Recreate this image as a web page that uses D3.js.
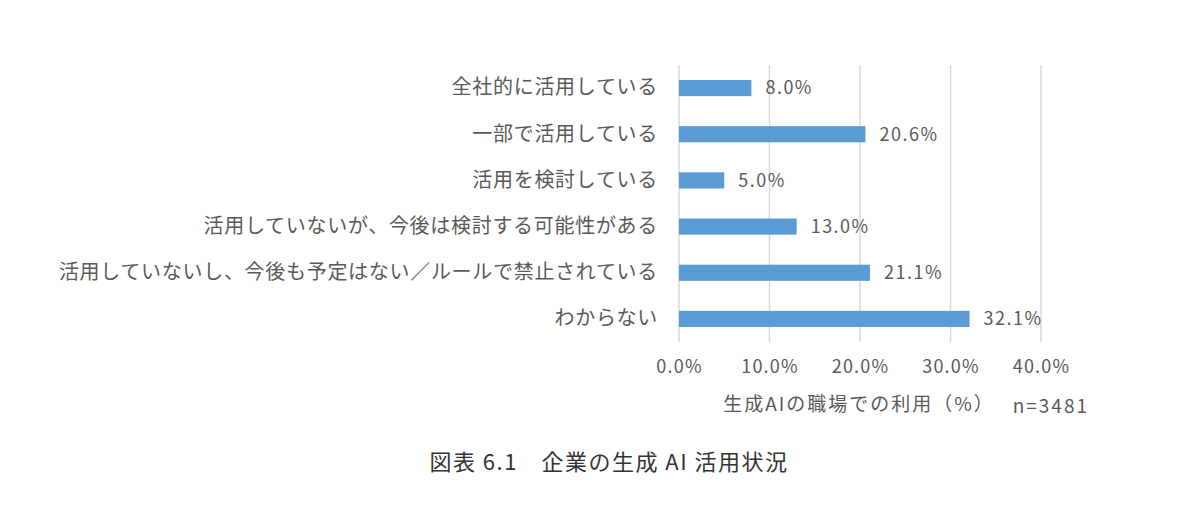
<!DOCTYPE html>
<html lang="ja">
<head>
    <meta charset="UTF-8">
    <script src="https://d3js.org/d3.v7.min.js"></script>
    <title>企業の生成AI活用状況</title>
    <style>
        html, body {
            margin: 0px;
            padding: 0px;
            background-color: #ffffff;
            font-family: "Noto Sans CJK JP", "Noto Sans", sans-serif;
        }
    </style>
</head>
<body>
    <div id="chart"></div>
    <script>

        let categories = [
            '全社的に活用している',
            '一部で活用している',
            '活用を検討している',
            '活用していないが、今後は検討する可能性がある',
            '活用していないし、今後も予定はない／ルールで禁止されている',
            'わからない'
        ];
        let values = [8.0, 20.6, 5.0, 13.0, 21.1, 32.1];
        let tick_values = [0, 10, 20, 30, 40];

        let axis_title = '生成AIの職場での利用（%）';
        let sample_note = 'n=3481';
        let caption = '図表 6.1　企業の生成 AI 活用状況';

        let width = 1200;
        let height = 526;
        let text_colour = '#595959';

        let svg = d3.select('#chart').append('svg')
            .attr('width', width)
            .attr('height', height);

        let x = d3.scaleLinear().domain([0, 40]).range([679, 1041]);
        let y = d3.scaleBand().domain(categories).range([65, 342]).paddingInner(0.65).paddingOuter(0.325);

        // gridlines
        svg.append('g')
            .selectAll('line')
            .data(tick_values)
            .join('line')
            .attr('x1', d => x(d))
            .attr('x2', d => x(d))
            .attr('y1', 65)
            .attr('y2', 342)
            .attr('stroke', '#d9d9d9')
            .attr('stroke-width', 1.5);

        // bars
        svg.append('g')
            .selectAll('rect')
            .data(values)
            .join('rect')
            .attr('x', x(0))
            .attr('y', (d, i) => y(categories[i]))
            .attr('width', d => x(d) - x(0))
            .attr('height', y.bandwidth())
            .attr('fill', '#5b9bd5');

        // value labels
        svg.append('g')
            .selectAll('text')
            .data(values)
            .join('text')
            .attr('x', d => x(d) + 14)
            .attr('y', (d, i) => y(categories[i]) + y.bandwidth() / 2)
            .attr('dy', '0.35em')
            .attr('font-size', '18px')
            .attr('letter-spacing', '1.5px')
            .attr('fill', text_colour)
            .text(d => d.toFixed(1) + '%');

        // category axis
        let y_axis = svg.append('g')
            .attr('transform', `translate(${x(0)},0)`)
            .call(d3.axisLeft(y).tickSize(0).tickPadding(21));
        y_axis.select('.domain').remove();
        y_axis.selectAll('text')
            .attr('font-size', '20px')
            .attr('letter-spacing', '0.7px')
            .attr('font-family', '"Noto Sans CJK JP", sans-serif')
            .attr('fill', text_colour);

        // value axis
        let x_axis = svg.append('g')
            .attr('transform', 'translate(0,342)')
            .call(d3.axisBottom(x).tickValues(tick_values).tickSize(0).tickPadding(18)
                .tickFormat(d => d.toFixed(1) + '%'));
        x_axis.select('.domain').remove();
        x_axis.selectAll('text')
            .attr('font-size', '18px')
            .attr('letter-spacing', '1.2px')
            .attr('font-family', '"Noto Sans CJK JP", sans-serif')
            .attr('fill', text_colour);

        svg.append('text')
            .attr('x', 859)
            .attr('y', 411)
            .attr('text-anchor', 'middle')
            .attr('font-size', '19px')
            .attr('letter-spacing', '2px')
            .attr('fill', text_colour)
            .text(axis_title);

        svg.append('text')
            .attr('x', 1089)
            .attr('y', 413)
            .attr('text-anchor', 'end')
            .attr('font-size', '19px')
            .attr('letter-spacing', '2px')
            .attr('fill', text_colour)
            .text(sample_note);

        svg.append('text')
            .attr('x', 609)
            .attr('y', 470)
            .attr('text-anchor', 'middle')
            .attr('font-size', '22px')
            .attr('letter-spacing', '1.5px')
            .attr('fill', '#333333')
            .text(caption);

    </script>
</body>
</html>
